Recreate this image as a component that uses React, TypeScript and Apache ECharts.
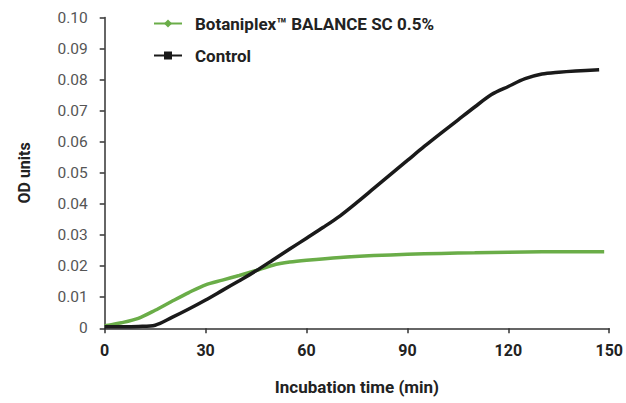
import React, { useEffect, useRef } from "react";
import * as echarts from "echarts";

const timeGreen = [0, 5, 10, 15, 20, 25, 30, 35, 40, 45, 50, 55, 60, 70, 80, 90, 100, 110, 120, 130, 140, 148.5];
const valuesGreen = [0.0008, 0.0018, 0.0032, 0.0058, 0.0087, 0.0115, 0.014, 0.0155, 0.017, 0.0186, 0.0203, 0.0213, 0.0219, 0.0228, 0.0234, 0.0238, 0.0241, 0.0243, 0.0245, 0.0246, 0.0246, 0.0246];

const timeControl = [0, 5, 10, 15, 20, 25, 30, 35, 40, 45, 50, 55, 60, 65, 70, 75, 80, 85, 90, 95, 100, 105, 110, 115, 120, 125, 130, 135, 140, 147];
const valuesControl = [0.0005, 0.0005, 0.0006, 0.001, 0.0035, 0.0062, 0.0091, 0.0122, 0.0153, 0.0185, 0.022, 0.0255, 0.029, 0.0325, 0.0362, 0.0405, 0.045, 0.0495, 0.054, 0.0585, 0.0628, 0.067, 0.0712, 0.0752, 0.0778, 0.0803, 0.0818, 0.0824, 0.0828, 0.0832];

const seriesNames = ["Botaniplex\u2122 BALANCE SC 0.5%", "Control"];
const xTicks = [0, 30, 60, 90, 120, 150];

const FONT = "Roboto, 'DejaVu Sans', sans-serif";

export default function App() {
  const ref = useRef<HTMLDivElement>(null);
  useEffect(() => {
    if (!ref.current) return;
    const chart = echarts.init(ref.current, undefined, { renderer: "svg" });
    const green = "#6aad48";
    const black = "#1a1a1a";
    chart.setOption({
      animation: false,
      textStyle: { fontFamily: FONT },
      grid: { left: 104.7, right: 15.3, top: 17.5, bottom: 74.7 },
      legend: {
        orient: "vertical",
        left: 148,
        top: 10,
        itemWidth: 28,
        itemHeight: 10,
        itemGap: 15,
        textStyle: {
          fontSize: 17,
          fontWeight: "bold",
          color: "#222",
          fontFamily: FONT,
          padding: [0, 0, 0, 8],
        },
        data: seriesNames,
      },
      xAxis: {
        type: "value",
        min: 0,
        max: 150,
        interval: 30,
        name: "Incubation time (min)",
        nameLocation: "middle",
        nameGap: 50,
        nameTextStyle: { fontSize: 17, fontWeight: "bold", color: "#222" },
        axisLine: { show: true, lineStyle: { color: "#333", width: 1.5 } },
        axisTick: { show: true, length: 5, lineStyle: { color: "#333", width: 1.5 } },
        axisLabel: {
          fontSize: 16,
          fontWeight: "bold",
          color: "#222",
          margin: 14,
          formatter: (v: number) => (xTicks.includes(v) ? String(v) : ""),
        },
        splitLine: { show: false },
      },
      yAxis: {
        type: "value",
        min: 0,
        max: 0.1,
        interval: 0.01,
        offset: 3,
        name: "OD units",
        nameLocation: "middle",
        nameGap: 69,
        nameTextStyle: { fontSize: 16, fontWeight: "bold", color: "#222" },
        axisLine: { show: true, lineStyle: { color: "#333", width: 1.5 } },
        axisTick: { show: true, length: 5, lineStyle: { color: "#333", width: 1.5 } },
        axisLabel: {
          fontSize: 15.5,
          color: "#555",
          margin: 14,
          formatter: (v: number) => (v === 0 ? "0" : v.toFixed(2)),
        },
        splitLine: { show: false },
      },
      series: [
        {
          name: seriesNames[0],
          type: "line",
          data: timeGreen.map((t, i) => [t, valuesGreen[i]]),
          smooth: 0.3,
          symbol: "diamond",
          symbolSize: 10,
          showSymbol: false,
          itemStyle: { color: green },
          lineStyle: { color: green, width: 3.5 },
          z: 2,
        },
        {
          name: seriesNames[1],
          type: "line",
          data: timeControl.map((t, i) => [t, valuesControl[i]]),
          smooth: 0.3,
          symbol: "rect",
          symbolSize: 10,
          showSymbol: false,
          itemStyle: { color: black },
          lineStyle: { color: black, width: 3.5 },
          z: 3,
        },
      ],
    });
    return () => chart.dispose();
  }, []);
  return <div ref={ref} style={{ width: 626, height: 403, position: "absolute", left: 0, top: 0 }} />;
}
